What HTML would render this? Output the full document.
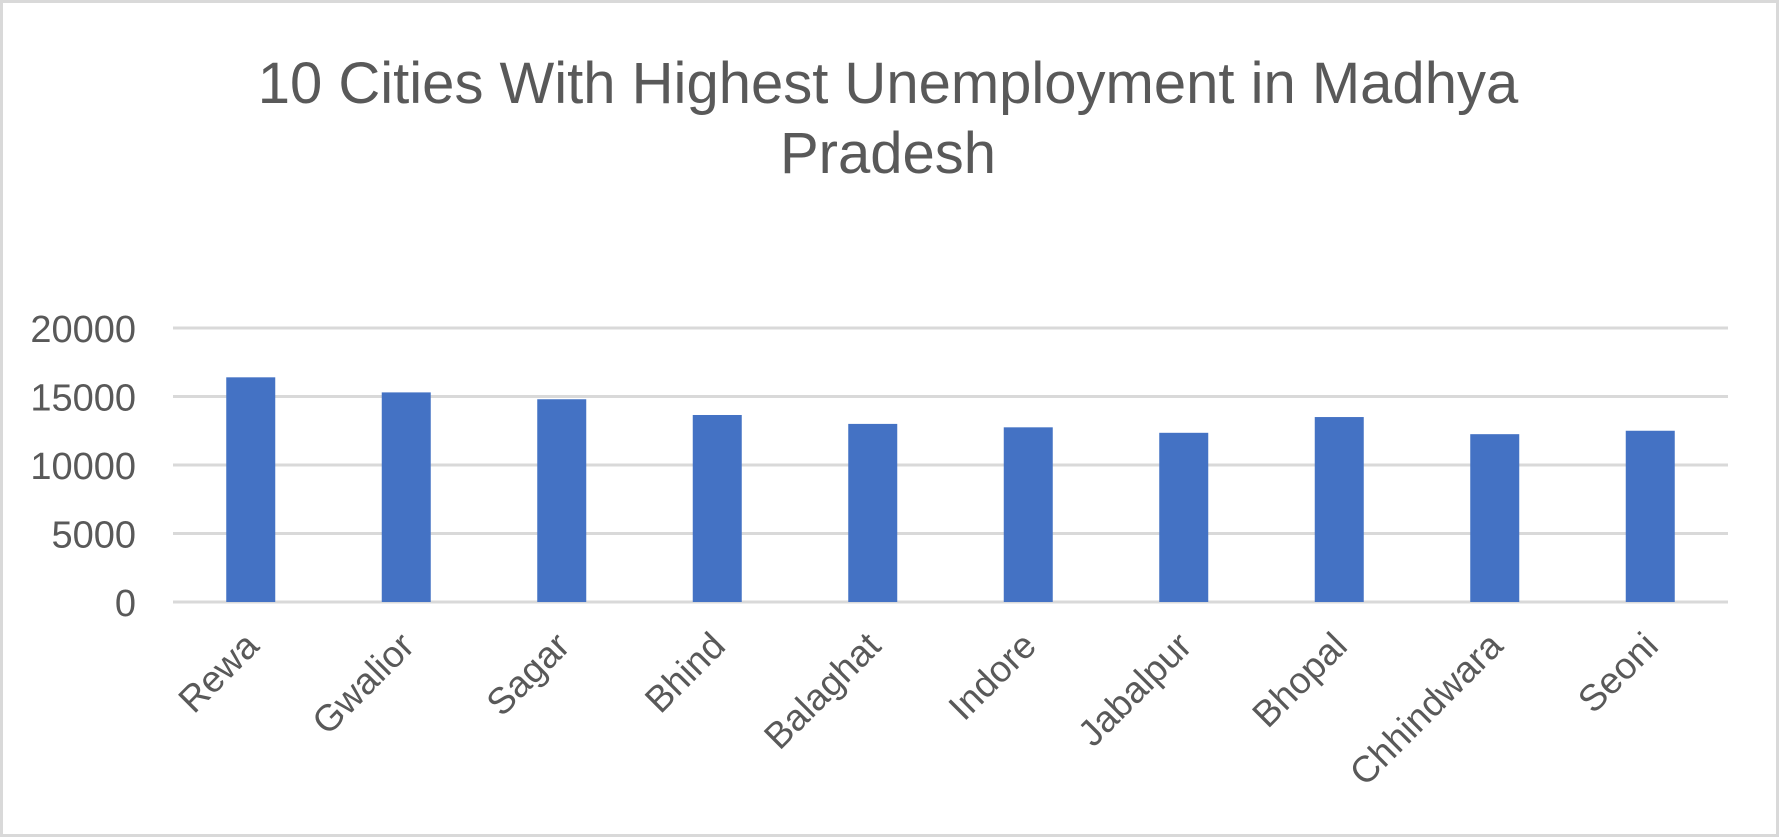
<!DOCTYPE html>
<html><head><meta charset="utf-8">
<style>
html,body{margin:0;padding:0;background:#fff;}
svg{display:block;font-family:"Liberation Sans",sans-serif;}
</style></head>
<body>
<svg id="chart" width="1780" height="839">
<rect x="1.5" y="1.5" width="1776" height="834" fill="#fff" stroke="#d9d9d9" stroke-width="3"/>
<text x="888" y="103" text-anchor="middle" font-size="58" fill="#595959">10 Cities With Highest Unemployment in Madhya</text>
<text x="888" y="173" text-anchor="middle" font-size="58" fill="#595959">Pradesh</text>
<g id="grid"></g><g id="bars"></g><g id="labels"></g>
</svg>
<script>
const categories=["Rewa","Gwalior","Sagar","Bhind","Balaghat","Indore","Jabalpur","Bhopal","Chhindwara","Seoni"];
const values=[16400,15300,14800,13650,13000,12750,12350,13500,12250,12500];
const ticks=[0,5000,10000,15000,20000];
const tickLabels=["0","5000","10000","15000","20000"];
const NS="http://www.w3.org/2000/svg";
const L=173,R=1728,T=328,B=602,MAX=20000;
const y=v=>B-(v/MAX)*(B-T);
const slot=(R-L)/categories.length;
const xc=i=>L+slot*(i+0.5);
const bw=49;
function mk(t,a,p){const e=document.createElementNS(NS,t);for(const k in a)e.setAttribute(k,a[k]);p.appendChild(e);return e;}
const grid=document.getElementById('grid'),bars=document.getElementById('bars'),labels=document.getElementById('labels');
ticks.forEach((t,i)=>{
  const ln=mk('line',{x1:L,x2:R,y1:y(t),y2:y(t),stroke:'#d9d9d9','stroke-width':3},grid);
  
  
  const tx=mk('text',{x:136,y:y(t)+14,'text-anchor':'end','font-size':38,fill:'#595959'},grid);
  tx.textContent=tickLabels[i];
  
  
});
categories.forEach((c,i)=>{
  const r=mk('rect',{x:xc(i)-bw/2,y:y(values[i]),width:bw,height:B-y(values[i]),fill:'#4472c4'},bars);
  
  
  const ax=xc(i)+10,ay=648;
  const t=mk('text',{x:ax,y:ay,'text-anchor':'end','font-size':37,fill:'#595959',transform:`rotate(-45 ${ax} ${ay})`},labels);
  t.textContent=c;
  
  
});
</script>
</body></html>
